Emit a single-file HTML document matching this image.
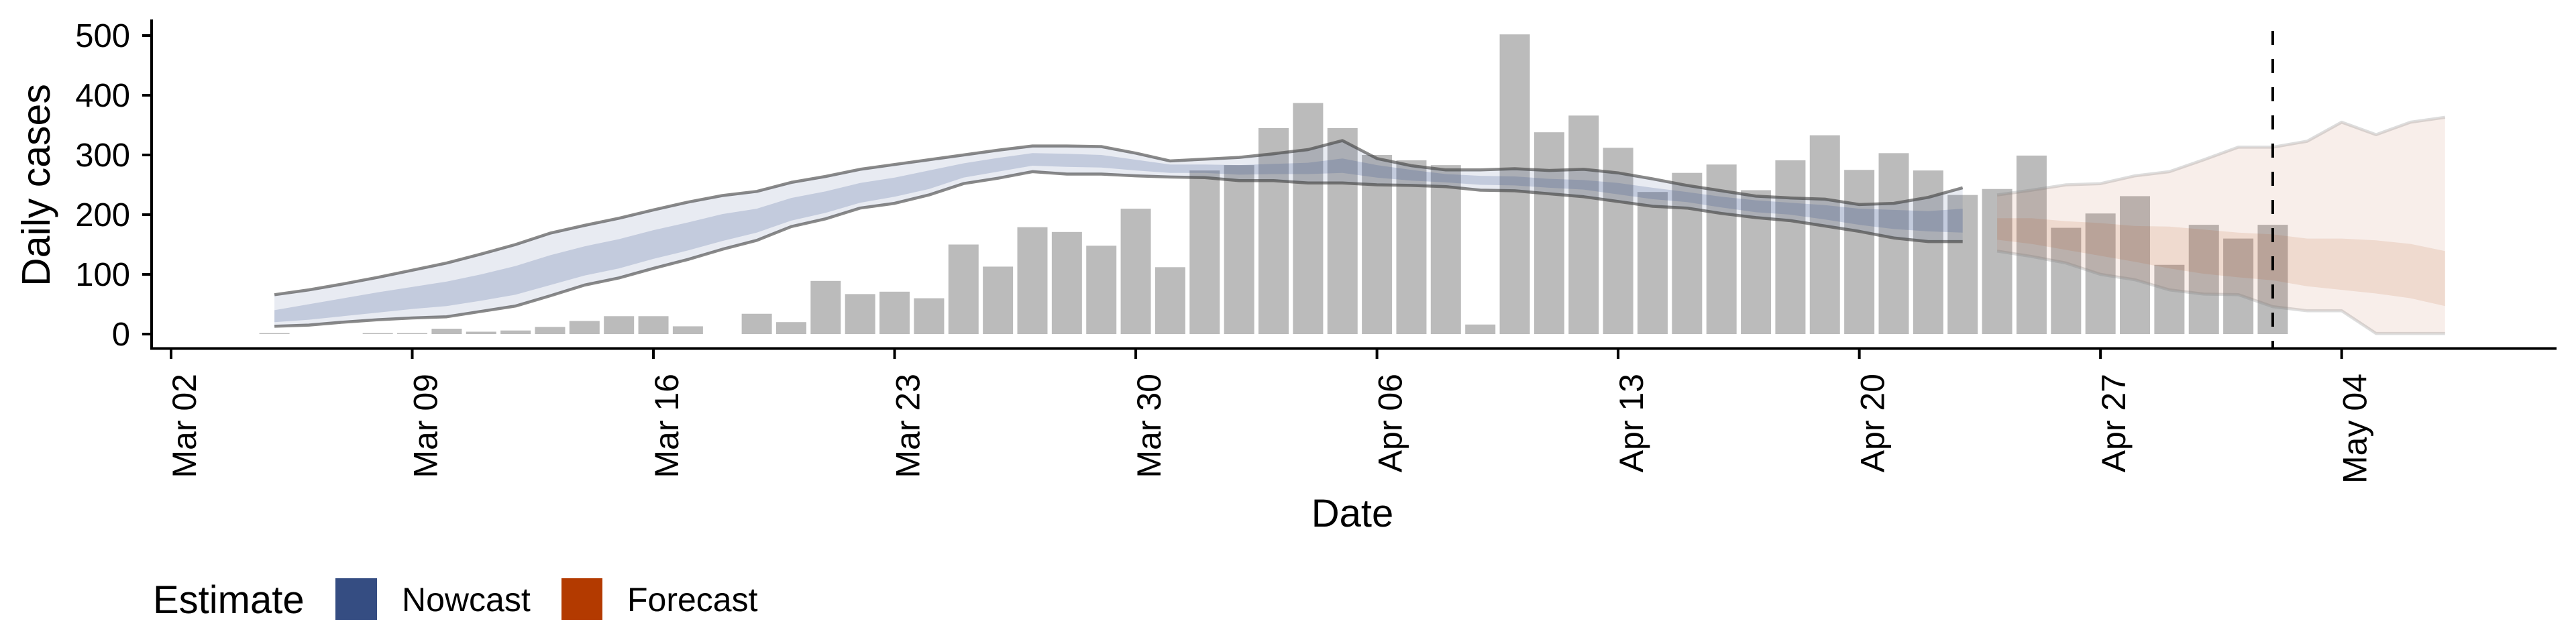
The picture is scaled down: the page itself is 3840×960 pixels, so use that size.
<!DOCTYPE html>
<html><head><meta charset="utf-8"><style>
html,body{margin:0;padding:0;background:#fff;}
svg{display:block;font-family:"Liberation Sans",Arial,sans-serif;}
</style></head><body>
<svg id="chart" width="3840" height="960" viewBox="0 0 3840 960" xmlns="http://www.w3.org/2000/svg">
<g id="plot"></g>
<g id="axes"></g>
<text transform="translate(74,276) rotate(-90)" text-anchor="middle" font-size="59">Daily cases</text>
<text x="2016" y="785" text-anchor="middle" font-size="58">Date</text>
<g>
<text x="228" y="914" font-size="58">Estimate</text>
<rect x="500" y="862" width="62" height="62" fill="#354d82"/>
<text x="599" y="911" font-size="50">Nowcast</text>
<rect x="837" y="862" width="61" height="62" fill="#b33a00"/>
<text x="935" y="911" font-size="50">Forecast</text>
</g>
</svg>
<script>
// day index 0 = Mar 02
const barDays = [3,6,7,8,9,10,11,12,13,14,15,17,18,19,20,21,22,23,24,25,26,27,28,29,30,31,32,33,34,35,36,37,38,39,40,41,42,43,44,45,46,47,48,49,50,51,52,53,54,55,56,57,58,59,60,61];
const barValues = [1,1,1,9,4,6,12,22,30,30,13,34,20,89,67,71,60,150,113,179,171,148,210,112,274,283,345,387,345,300,291,283,16,502,338,366,312,238,270,284,241,291,333,275,303,274,233,243,299,178,202,231,116,183,160,183];

const nowDays = [3,4,5,6,7,8,9,10,11,12,13,14,15,16,17,18,19,20,21,22,23,24,25,26,27,28,29,30,31,32,33,34,35,36,37,38,39,40,41,42,43,44,45,46,47,48,49,50,51,52];
const nowUpper90 = [66,74,84,95,107,119,134,150,169,182,194,208,221,232,239,254,264,276,284,292,300,308,315,315,314,303,290,293,296,302,309,324,294,282,275,275,277,274,276,270,260,249,240,231,228,226,217,219,229,245];
const nowLower90 = [13,15,20,24,27,29,38,47,64,82,94,110,125,142,157,180,193,211,219,233,252,261,272,268,268,265,263,262,257,257,253,253,250,249,247,241,240,235,230,222,214,211,202,195,190,181,172,161,155,155];
const nowUpper50 = [40,50,60,70,79,88,100,114,132,147,159,174,187,201,210,228,239,253,262,274,286,295,303,302,300,292,284,284,283,285,287,294,283,275,268,265,264,260,258,253,245,238,230,224,220,216,210,208,206,210];
const nowLower50 = [20,24,30,36,42,47,56,66,82,98,110,126,140,156,170,190,203,220,230,243,262,272,282,280,279,274,270,270,267,268,268,270,262,257,254,250,249,245,242,234,226,221,212,204,200,192,183,176,172,170];

const foreDays = [53,54,55,56,57,58,59,60,61,62,63,64,65,66];
const foreUpper90 = [233,241,250,252,265,272,292,313,313,323,355,334,355,363];
const foreLower90 = [139,130,119,100,91,74,67,66,46,39,39,1,1,1];
const foreUpper50 = [194,194,189,186,181,180,175,170,167,160,160,157,151,139];
const foreLower50 = [158,151,141,131,121,110,101,95,90,80,74,68,60,47];

const yTicks = [0,100,200,300,400,500];
const xTickDays = [0,7,14,21,28,35,42,49,56,63];
const xTickLabels = ["Mar 02","Mar 09","Mar 16","Mar 23","Mar 30","Apr 06","Apr 13","Apr 20","Apr 27","May 04"];
const forecastDateDay = [61];

const NS = "http://www.w3.org/2000/svg";
const X0 = 255, DAY = 51.36, Y0 = 498, PER = 0.89;
function xs(d){ return X0 + d * DAY; }
function ys(v){ return Y0 - v * PER; }
function mk(tag, attrs, parent){
  const e = document.createElementNS(NS, tag);
  for (const k in attrs) e.setAttribute(k, attrs[k]);
  parent.appendChild(e);
  return e;
}
const plot = document.getElementById('plot');
const axes = document.getElementById('axes');

barDays.forEach((d,i)=>{
  const v = barValues[i];
  const h = Math.max(v*PER, 1.5);
  const r = mk('rect',{x:xs(d)-22.5, y:Y0-h, width:45, height:h, fill:'#bbbbbb'}, plot);
  
  
});

function band(days, up, lo, fill, name){
  let p = days.map((d,i)=>(i?'L':'M')+xs(d).toFixed(1)+','+ys(up[i]).toFixed(1)).join(' ');
  for (let i=days.length-1;i>=0;i--) p += ' L'+xs(days[i]).toFixed(1)+','+ys(lo[i]).toFixed(1);
  const e = mk('path',{d:p+' Z', fill:fill}, plot);
  
  
}
function line(days, vals, stroke, name){
  const p = days.map((d,i)=>(i?'L':'M')+xs(d).toFixed(1)+','+ys(vals[i]).toFixed(1)).join(' ');
  const e = mk('path',{d:p, fill:'none', stroke:stroke, 'stroke-width':4.5, 'stroke-linejoin':'round'}, plot);
  
  
}
band(nowDays, nowUpper90, nowLower90, 'rgba(50,74,140,0.11)', 'nowcast-90-band');
band(nowDays, nowUpper50, nowLower50, 'rgba(50,74,140,0.2)', 'nowcast-50-band');
band(foreDays, foreUpper90, foreLower90, 'rgba(180,70,20,0.09)', 'forecast-90-band');
band(foreDays, foreUpper50, foreLower50, 'rgba(180,70,20,0.12)', 'forecast-50-band');
line(nowDays, nowUpper90, 'rgba(60,60,60,0.6)', 'nowcast-upper-line');
line(nowDays, nowLower90, 'rgba(60,60,60,0.6)', 'nowcast-lower-line');
line(foreDays, foreUpper90, 'rgba(120,120,120,0.25)', 'forecast-upper-line');
line(foreDays, foreLower90, 'rgba(120,120,120,0.25)', 'forecast-lower-line');

const dl = mk('line',{x1:xs(forecastDateDay[0]), x2:xs(forecastDateDay[0]), y1:46, y2:519, stroke:'#000', 'stroke-width':4, 'stroke-dasharray':'21,21'}, plot);



const ya = mk('line',{x1:226, x2:226, y1:29, y2:521, stroke:'#000', 'stroke-width':4}, axes);


const xa = mk('line',{x1:224, x2:3811, y1:519.5, y2:519.5, stroke:'#000', 'stroke-width':4}, axes);


yTicks.forEach(v=>{
  const t = mk('line',{x1:212, x2:226, y1:ys(v), y2:ys(v), stroke:'#000', 'stroke-width':4}, axes);
  
  
  const l = mk('text',{x:194, y:ys(v)+17, 'text-anchor':'end', 'font-size':49}, axes);
  l.textContent = String(v);
  
  
});
xTickDays.forEach((d,i)=>{
  const x = xs(d);
  const t = mk('line',{x1:x, x2:x, y1:520, y2:535, stroke:'#000', 'stroke-width':4}, axes);
  
  
  const l = mk('text',{transform:'translate('+(x+37)+',557) rotate(-90)', 'text-anchor':'end', 'font-size':50}, axes);
  l.textContent = xTickLabels[i];
  
  
});
</script>
</body></html>
